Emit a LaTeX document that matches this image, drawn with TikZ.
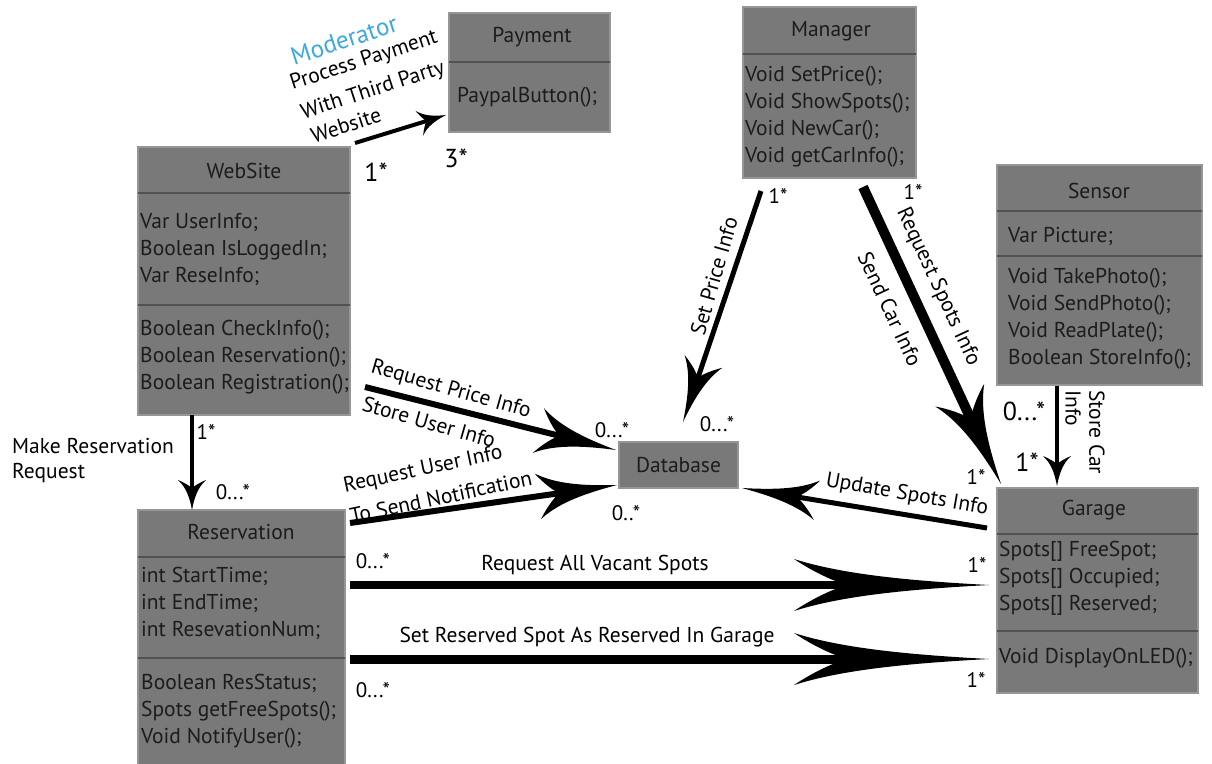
\documentclass[tikz,border=0pt]{standalone}
\usepackage{fontspec}
\setmainfont{PT Sans}
\usetikzlibrary{arrows.meta,calc}

% Stealth-like arrow head with slightly hollow sides and a notched back
\pgfdeclarearrow{
  name = Barbed,
  parameters = {\the\pgfarrowlength,\the\pgfarrowwidth},
  setup code = {
    \pgfarrowssettipend{\pgfarrowlength}
    \pgfarrowssetlineend{.3\pgfarrowlength}
    \pgfarrowssavethe\pgfarrowlength
    \pgfarrowssavethe\pgfarrowwidth
  },
  drawing code = {
    \pgfpathmoveto{\pgfqpoint{\pgfarrowlength}{0pt}}
    \pgfpathcurveto{\pgfqpoint{.6\pgfarrowlength}{.08\pgfarrowwidth}}{\pgfqpoint{.25\pgfarrowlength}{.2\pgfarrowwidth}}{\pgfqpoint{0pt}{.5\pgfarrowwidth}}
    \pgfpathcurveto{\pgfqpoint{.1\pgfarrowlength}{.25\pgfarrowwidth}}{\pgfqpoint{.2\pgfarrowlength}{.08\pgfarrowwidth}}{\pgfqpoint{.27\pgfarrowlength}{0pt}}
    \pgfpathcurveto{\pgfqpoint{.2\pgfarrowlength}{-.08\pgfarrowwidth}}{\pgfqpoint{.1\pgfarrowlength}{-.25\pgfarrowwidth}}{\pgfqpoint{0pt}{-.5\pgfarrowwidth}}
    \pgfpathcurveto{\pgfqpoint{.25\pgfarrowlength}{-.2\pgfarrowwidth}}{\pgfqpoint{.6\pgfarrowlength}{-.08\pgfarrowwidth}}{\pgfqpoint{\pgfarrowlength}{0pt}}
    \pgfpathclose
    \pgfusepathqfill
  },
  defaults = {length = 20pt, width = 20pt}
}

\definecolor{boxfill}{RGB}{121,121,121}
\definecolor{boxedge}{RGB}{150,150,150}
\definecolor{boxrule}{RGB}{82,82,82}
\definecolor{boxtext}{RGB}{28,28,28}
\definecolor{modblue}{RGB}{58,168,225}

\tikzset{
  cls/.style={draw=boxedge, line width=1.5pt, fill=boxfill, inner sep=0pt},
  sepline/.style={draw=boxrule, line width=1.5pt},
  title/.style={text=boxtext, font=\fontsize{21.5}{27}\selectfont, inner sep=0pt},
  members/.style={text=boxtext, font=\fontsize{21.5}{27}\selectfont, align=left, anchor=west, inner sep=0pt},
  lbl/.style={font=\fontsize{21.5}{25}\selectfont, inner sep=0pt},
  mult/.style={font=\fontsize{21}{24}\selectfont, inner sep=0pt},
  bigmult/.style={font=\fontsize{26}{28}\selectfont, inner sep=0pt},
  link/.style={draw=black, line cap=butt}
}

\begin{document}
\begin{tikzpicture}[x=1pt,y=-1pt]
\useasboundingbox (0,0) rectangle (1212,763);
\clip (0,0) rectangle (1212,763);

% ---------- classes ----------
% Payment
\node[cls, minimum width=161pt, minimum height=119pt] (pay) at (529.5,72.5) {};
\draw[sepline] (449,62) -- (610,62);
\node[title] (payT) at (532,37) {Payment};
\node[members] (payM) at (457,97) {PaypalButton();};

% WebSite
\node[cls, minimum width=212pt, minimum height=268pt] (web) at (244,281) {};
\draw[sepline] (138,193) -- (350,193);
\draw[sepline] (138,305) -- (350,305);
\node[title] (webT) at (244,171) {WebSite};
\node[members] (webA) at (140,250) {Var UserInfo;\\Boolean IsLoggedIn;\\Var ReseInfo;};
\node[members] (webM) at (140,357) {Boolean CheckInfo();\\Boolean Reservation();\\Boolean Registration();};

% Manager
\node[cls, minimum width=173pt, minimum height=171pt] (mgr) at (829.5,92.5) {};
\draw[sepline] (743,54) -- (916,54);
\node[title] (mgrT) at (831,31) {Manager};
\node[members] (mgrM) at (745,117) {Void SetPrice();\\Void ShowSpots();\\Void NewCar();\\Void getCarInfo();};

% Sensor
\node[cls, minimum width=205pt, minimum height=220pt] (sen) at (1099.5,275) {};
\draw[sepline] (997,211) -- (1202,211);
\draw[sepline] (997,256) -- (1202,256);
\node[title] (senT) at (1099,191) {Sensor};
\node[members] (senA) at (1008,236) {Var Picture;};
\node[members] (senM) at (1008,319) {Void TakePhoto();\\Void SendPhoto();\\Void ReadPlate();\\Boolean StoreInfo();};

% Database
\node[cls, title, minimum width=119pt, minimum height=46pt] (db) at (678.5,465) {Database};

% Reservation
\node[cls, minimum width=207pt, minimum height=265pt] (res) at (241.5,642.5) {};
\draw[sepline] (138,557) -- (345,557);
\draw[sepline] (138,658) -- (345,658);
\node[title] (resT) at (241,532) {Reservation};
\node[members] (resA) at (141,603) {int StartTime;\\int EndTime;\\int ResevationNum;};
\node[members] (resM) at (141,711) {Boolean ResStatus;\\Spots getFreeSpots();\\Void NotifyUser();};

% Garage
\node[cls, minimum width=201pt, minimum height=205pt] (gar) at (1097.5,590.5) {};
\draw[sepline] (997,534) -- (1198,534);
\draw[sepline] (997,631) -- (1198,631);
\node[title] (garT) at (1094,510) {Garage};
\node[members] (garA) at (999,578) {Spots[] FreeSpot;\\Spots[] Occupied;\\Spots[] Reserved;};
\node[members] (garM) at (999,658) {Void DisplayOnLED();};

% ---------- connector end points ----------
\coordinate (webToPay) at (355,143);   \coordinate (payIn) at (446,115);
\coordinate (webToRes) at (192,415);   \coordinate (resIn) at (192,510);
\coordinate (webToDb) at (365,387);    \coordinate (dbInA) at (616,450);
\coordinate (resToDb) at (350,523);    \coordinate (dbInB) at (617,485);
\coordinate (mgrToDb) at (761,191);    \coordinate (dbInC) at (683,422);
\coordinate (mgrToGar) at (863,187);   \coordinate (garInA) at (1001,484);
\coordinate (senToGar) at (1057,386);  \coordinate (garInB) at (1057,486);
\coordinate (garToDb) at (987,528);    \coordinate (dbInD) at (742,488);
\coordinate (resToGarA) at (350,585);  \coordinate (garInC) at (989,585);
\coordinate (resToGarB) at (350,659);  \coordinate (garInD) at (989,659);

% ---------- connectors ----------
\draw[link, line width=4pt, -{Barbed[length=28pt,width=26pt]}] (webToPay) -- (payIn);
\draw[link, line width=4pt, -{Barbed[length=30pt,width=28pt]}] (webToRes) -- (resIn);
\draw[link, line width=6pt, -{Barbed[length=80pt,width=46pt]}] (webToDb) -- (dbInA);
\draw[link, line width=6pt, -{Barbed[length=80pt,width=46pt]}] (resToDb) -- (dbInB);
\draw[link, line width=5pt, -{Barbed[length=64pt,width=40pt]}] (mgrToDb) -- (dbInC);
\draw[link, line width=10pt, -{Barbed[length=98pt,width=54pt]}] (mgrToGar) -- (garInA);
\draw[link, line width=4pt, -{Barbed[length=30pt,width=28pt]}] (senToGar) -- (garInB);
\draw[link, line width=5pt, -{Barbed[length=76pt,width=40pt]}] (garToDb) -- (dbInD);
\draw[link, line width=8pt, -{Barbed[length=195pt,width=52pt]}] (resToGarA) -- (garInC);
\draw[link, line width=9pt, -{Barbed[length=195pt,width=52pt]}] (resToGarB) -- (garInD);

% ---------- connector labels ----------
\node[lbl, text=modblue, font=\fontsize{25}{28}\selectfont, rotate=18] (lModerator) at (344,40) {Moderator};
\node[lbl, rotate=18] (lPay1) at (364,61) {Process Payment};
\node[lbl, rotate=18] (lPay2) at (373,91) {With Third Party};
\node[lbl, rotate=18] (lPay3) at (346,125) {Website};

\node[lbl, align=left, anchor=west] (lMake) at (12,461) {Make Reservation\\Request};

\node[lbl, rotate=-16] (lReqPrice) at (451,390) {Request Price Info};
\node[lbl, rotate=-16] (lStoreUser) at (429,422) {Store User Info};
\node[lbl, rotate=12] (lReqUser) at (423,470) {Request User Info};
\node[lbl, rotate=12] (lSendNote) at (441,497) {To Send Notification};

\node[lbl, rotate=74] (lSetPrice) at (714,276) {Set Price Info};
\node[lbl, rotate=-65] (lReqSpots) at (938,287) {Request Spots Info};
\node[lbl, rotate=-65] (lSendCar) at (890,309) {Send Car Info};
\node[lbl, rotate=-90, anchor=west] (lStoreCar) at (1097,390) {Store Car};
\node[lbl, rotate=-90, anchor=west] (lStoreInfo) at (1073,390) {Info};
\node[lbl, rotate=-10] (lUpdate) at (907,495) {Update Spots Info};

\node[lbl] (lVacant) at (595,565) {Request All Vacant Spots};
\node[lbl] (lSetRes) at (587,637) {Set Reserved Spot As Reserved In Garage};

% ---------- multiplicities ----------
\node[bigmult] (m1) at (376,172) {1*};
\node[bigmult] (m2) at (456,158) {3*};
\node[mult] (m3) at (206,432) {1*};
\node[mult] (m4) at (233,492) {0...*};
\node[mult] (m5) at (778,196) {1*};
\node[mult] (m6) at (913,192) {1*};
\node[mult] (m7) at (612,430) {0...*};
\node[mult] (m8) at (717,424) {0...*};
\node[mult] (m9) at (626,513) {0..*};
\node[mult] (m10) at (373,561) {0...*};
\node[mult] (m11) at (373,690) {0...*};
\node[mult] (m12) at (976,477) {1*};
\node[mult] (m13) at (977,565) {1*};
\node[mult] (m14) at (976,680) {1*};
\node[bigmult] (m15) at (1024,411) {0...*};
\node[bigmult] (m16) at (1027,462) {1*};
\end{tikzpicture}
\end{document}
